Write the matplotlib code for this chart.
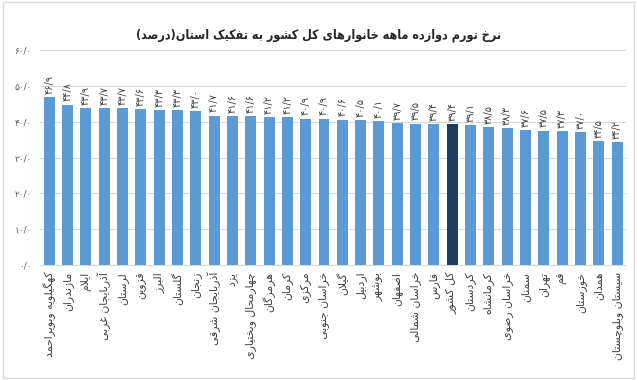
import matplotlib
matplotlib.use('Agg')
import matplotlib.pyplot as plt
from matplotlib.patches import Rectangle

# داده ها
provinces = ['کهگیلویه وبویراحمد', 'مازندران', 'ایلام', 'آذربایجان غربی', 'لرستان', 'قزوین',
             'البرز', 'گلستان', 'زنجان', 'آذربایجان شرقی', 'یزد', 'چهارمحال وبختیاری',
             'هرمزگان', 'کرمان', 'مرکزی', 'خراسان جنوبی', 'گیلان', 'اردبیل', 'بوشهر',
             'اصفهان', 'خراسان شمالی', 'فارس', 'کل کشور', 'کردستان', 'کرمانشاه',
             'خراسان رضوی', 'سمنان', 'تهران', 'قم', 'خوزستان', 'همدان', 'سیستان وبلوچستان']
values = [46.9, 44.8, 43.9, 43.7, 43.7, 43.6, 43.3, 43.3, 43.0, 41.7, 41.6, 41.6,
          41.2, 41.2, 40.9, 40.9, 40.6, 40.5, 40.1, 39.7, 39.5, 39.4, 39.4, 39.1,
          38.5, 38.3, 37.6, 37.5, 37.3, 37.0, 34.5, 34.2]
highlight = 'کل کشور'
yticks = [0, 10, 20, 30, 40, 50, 60]
title = 'نرخ تورم دوازده ماهه خانوارهای کل کشور به تفکیک استان(درصد)'

# اشکال حروف (تنها، پایانی، آغازی، میانی)
FORMS = {
    'ا': (0xFE8D, 0xFE8E), 'آ': (0xFE81, 0xFE82),
    'ب': (0xFE8F, 0xFE90, 0xFE91, 0xFE92), 'پ': (0xFB56, 0xFB57, 0xFB58, 0xFB59),
    'ت': (0xFE95, 0xFE96, 0xFE97, 0xFE98), 'ث': (0xFE99, 0xFE9A, 0xFE9B, 0xFE9C),
    'ج': (0xFE9D, 0xFE9E, 0xFE9F, 0xFEA0), 'چ': (0xFB7A, 0xFB7B, 0xFB7C, 0xFB7D),
    'ح': (0xFEA1, 0xFEA2, 0xFEA3, 0xFEA4), 'خ': (0xFEA5, 0xFEA6, 0xFEA7, 0xFEA8),
    'د': (0xFEA9, 0xFEAA), 'ذ': (0xFEAB, 0xFEAC), 'ر': (0xFEAD, 0xFEAE),
    'ز': (0xFEAF, 0xFEB0), 'ژ': (0xFB8A, 0xFB8B),
    'س': (0xFEB1, 0xFEB2, 0xFEB3, 0xFEB4), 'ش': (0xFEB5, 0xFEB6, 0xFEB7, 0xFEB8),
    'ص': (0xFEB9, 0xFEBA, 0xFEBB, 0xFEBC), 'ض': (0xFEBD, 0xFEBE, 0xFEBF, 0xFEC0),
    'ط': (0xFEC1, 0xFEC2, 0xFEC3, 0xFEC4), 'ظ': (0xFEC5, 0xFEC6, 0xFEC7, 0xFEC8),
    'ع': (0xFEC9, 0xFECA, 0xFECB, 0xFECC), 'غ': (0xFECD, 0xFECE, 0xFECF, 0xFED0),
    'ف': (0xFED1, 0xFED2, 0xFED3, 0xFED4), 'ق': (0xFED5, 0xFED6, 0xFED7, 0xFED8),
    'ک': (0xFB8E, 0xFB8F, 0xFB90, 0xFB91), 'گ': (0xFB92, 0xFB93, 0xFB94, 0xFB95),
    'ل': (0xFEDD, 0xFEDE, 0xFEDF, 0xFEE0), 'م': (0xFEE1, 0xFEE2, 0xFEE3, 0xFEE4),
    'ن': (0xFEE5, 0xFEE6, 0xFEE7, 0xFEE8), 'ه': (0xFEE9, 0xFEEA, 0xFEEB, 0xFEEC),
    'و': (0xFEED, 0xFEEE), 'ی': (0xFBFC, 0xFBFD, 0xFBFE, 0xFBFF),
}
LAM_ALEF = {'ا': (0xFEFB, 0xFEFC), 'آ': (0xFEF5, 0xFEF6)}
MIRROR = {'(': ')', ')': '('}


def fa(text):
    # شکل دادن حروف و ترتیب دیداری راست به چپ
    out = []
    i = 0
    n = len(text)
    while i < n:
        ch = text[i]
        if ch not in FORMS:
            out.append(MIRROR.get(ch, ch))
            i += 1
            continue
        prev_join = i > 0 and text[i - 1] in FORMS and len(FORMS[text[i - 1]]) == 4
        if ch == 'ل' and i + 1 < n and text[i + 1] in LAM_ALEF:
            out.append(chr(LAM_ALEF[text[i + 1]][1 if prev_join else 0]))
            i += 2
            continue
        next_join = i + 1 < n and text[i + 1] in FORMS and len(FORMS[ch]) == 4
        f = FORMS[ch]
        if prev_join and next_join:
            out.append(chr(f[3]))
        elif prev_join:
            out.append(chr(f[1]))
        elif next_join:
            out.append(chr(f[2]))
        else:
            out.append(chr(f[0]))
        i += 1
    return ''.join(reversed(out))


def fa_num(v):
    s = f'{v:.1f}'.replace('.', '/')
    return s.translate(str.maketrans('0123456789', '۰۱۲۳۴۵۶۷۸۹'))


plt.rcParams['font.family'] = ['DejaVu Sans']

fig = plt.figure(figsize=(6.37, 3.8), dpi=100)
ax = fig.add_axes([0.063, 0.303, 0.92, 0.565])

x = list(range(len(provinces)))
colors = ['#1F3D63' if p == highlight else '#5B9BD5' for p in provinces]
ax.bar(x, values, width=0.6, color=colors, zorder=3)

for xi, v in zip(x, values):
    ax.text(xi, v + 0.9, fa_num(v), rotation=90, ha='center', va='bottom',
            fontsize=7, color='#404040')

ax.set_xlim(-0.5, len(provinces) - 0.5)
ax.set_ylim(0, 60)
ax.set_yticks(yticks)
ax.set_yticklabels([fa_num(t) for t in yticks], fontsize=6.5, color='#595959')
ax.set_xticks(x)
ax.set_xticklabels([fa(p) for p in provinces], rotation=90, fontsize=7.8, color='#404040')
ax.tick_params(axis='both', length=0)
ax.tick_params(axis='y', pad=6)
ax.tick_params(axis='x', pad=5)
ax.grid(axis='y', color='#D9D9D9', linewidth=0.8, zorder=0)
for s in ['left', 'right', 'top']:
    ax.spines[s].set_visible(False)
ax.spines['bottom'].set_color('#D9D9D9')

fig.text(0.5, 0.908, fa(title), ha='center', va='center', fontsize=9,
         fontweight='bold', fontstretch='condensed', color='#262626')

fig.patches.append(Rectangle((0.004, 0.005), 0.992, 0.99, transform=fig.transFigure,
                             fill=False, edgecolor='#D9D9D9', linewidth=1))

fig.savefig('out.png', dpi=100)
